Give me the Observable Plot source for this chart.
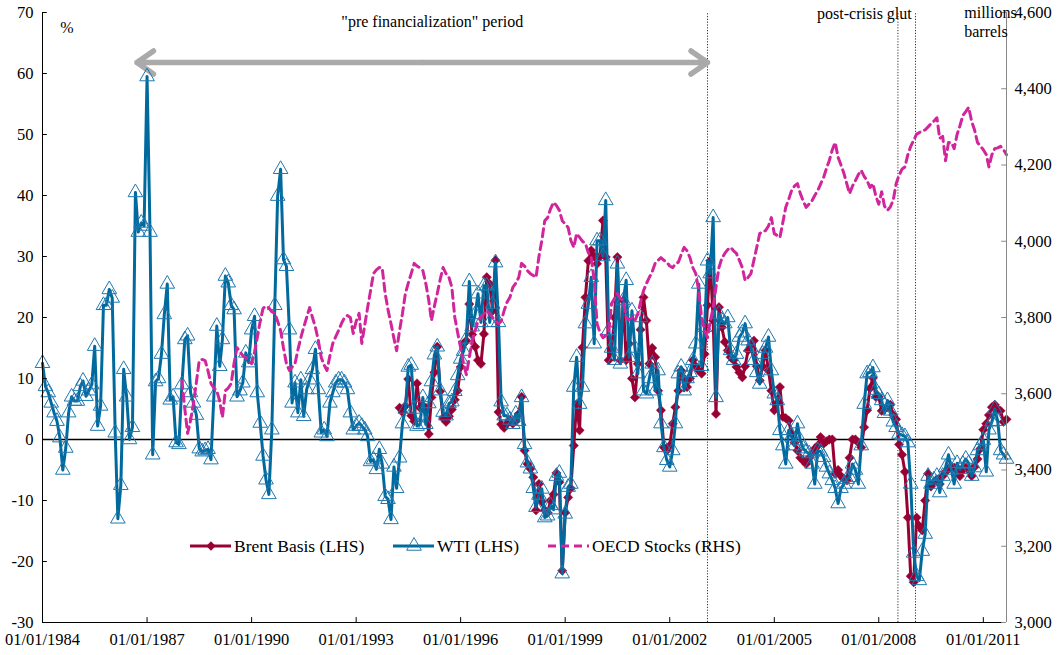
<!DOCTYPE html>
<html>
<head>
<meta charset="utf-8">
<script src="https://cdn.jsdelivr.net/npm/d3@7"></script>
<script src="https://cdn.jsdelivr.net/npm/@observablehq/plot@0.6"></script>
<style>
  html, body { margin: 0; padding: 0; background: #fff; }
  #wrap { position: relative; width: 1062px; height: 655px; }
</style>
</head>
<body>
<div id="wrap"></div>
<script>
// ---------------- DATA (monthly) ----------------
// WTI basis (%), Jan 1984 - Sep 2011, left axis
const wtiValues = [
  12.5, 8.7, 7.7, 6, 4.4, 3, 0.3, -5, -1.4, 4.4, 7, 6.3,            // 1984
  6.3, 8.7, 9.6, 7.1, 8, 9, 15.3, 2.2, 5.5, 22, 22, 24.6,           // 1985
  23.2, 1.1, -13, -7.5, 11.5, 7, 0, 2, 40.5, 34, 35.5, 35,          // 1986
  59.5, 34, -2.5, 9.5, 10, 14, 20.5, 25.5, 6.5, 7, -0.5, -0.8,      // 1987
  9, 16.4, 17, 7.7, 6, 4, -1.5, -2, -1.8, -1.6, -3.3, 7,            // 1988
  18.6, 12, 16.4, 26.8, 25.7, 22, 21.3, 7, 8, 9.3, 14.2, 12.6,      // 1989
  18, 20.2, 7.7, 2.7, -2.7, -6.6, -9, 1.6, 22, 39.9, 44.3, 29.5,    // 1990
  28.4, 18, 6, 9.3, 4.4, 9.8, 3.8, 8.2, 9.8, 11.5, 14.8, 8.2,       // 1991
  1.1, 1.6, 0.5, 6, 7.7, 9.3, 9.8, 9.8, 9.3, 8.2, 4.4, 1.6,         // 1992
  2.2, 2.7, 2.2, 1.6, 0.5, -3.6, -3.3, -4.9, -1.6, -4, -9.3, -9.8,  // 1993
  -13.1, -4.5, -8, -3, 2.6, 5, 11.9, 12.2, 5, 2.2, 2.5, 6.9,        // 1994
  2.5, 5.9, 9.5, 13.9, 15.2, 8, 4.5, 3.9, 5.9, 6.2, 7.9, 10.5,      // 1995
  13.2, 14.5, 16.5, 25.9, 18.5, 20.5, 23.9, 19.2, 25.2, 25.2, 19.2, 22.2, // 1996
  29, 19.2, 6.2, 3.9, 3.9, 3.2, 2.5, 4.2, 3, 6.9, -0.8, -3.8,       // 1997
  -4.8, -8, -11.1, -9.1, -8.1, -12.8, -12.5, -10.8, -11.5, -6, -5.5, -22, // 1998
  -12.2, -7.8, -7.3, 8.6, 13.5, 5.8, 8.6, 19, 22.2, 26.6, 15.7, 32.6, // 1999
  32.6, 30, 39.2, 17.9, 15, 13, 28.8, 12.4, 22.8, 26.1, 13.5, 21.1, // 2000
  15, 10.8, 20, 8, 7.5, 10, 12.4, 8, 11.3, 2.6, -1.3, -3.4,         // 2001
  -4.5, -1.8, 2.6, 10.8, 11.9, 8, 10, 11, 13, 15.7, 25.5, 12,       // 2002
  18.4, 29.3, 27.2, 36.4, 6.9, 20.6, 19.5, 19, 20, 14.6, 13, 14,    // 2003
  16.8, 17.5, 19, 16.2, 15.1, 13, 11, 9.1, 14, 15, 16.8, 11.3,      // 2004
  7.5, 6.4, 1.5, -1, -4, 1.5, 0.5, -1, 2.6, -0.2, -1.5, -2,         // 2005
  -2.3, -4, -7.3, -1.8, -2, -2.9, -4.5, -5.6, -6.7, -8, -10.5, -8,  // 2006
  -7.3, -6.5, -6.2, -4, -5, -7.3, -1, 5.8, 10.8, 11, 11.8, 8.1,     // 2007
  7.4, 6.4, 4.3, 6.4, 4.7, 2.9, 2, 0.9, 0.7, 0.5, -0.5, -7.3,       // 2008
  -18.6, -22.4, -23.1, -18.3, -15.5, -6, -7.3, -6.6, -6, -8.7, -6, -4.6, // 2009
  -2.5, -5, -7.3, -3.9, -4.9, -4, -3.2, -3.9, -6, -4.6, -1.8, -1,   // 2010
  -0.1, -5.3, 1.6, 2.9, 5, 3, -1.8, -2.5, -3.2                      // 2011
];
// Brent basis (%), Apr 1994 - Sep 2011, left axis
const brentValues = [
  5.2, 4.5, 5.5, 9.9, 3.9, 3, 9.2, 5.2, 5.2,                        // 1994 (Apr-Dec)
  5.2, 0.9, 6.9, 11, 15.2, 7.9, 3.5, 2.9, 3.8, 4.9, 6.5, 8,         // 1995
  11.9, 15.7, 16.2, 22.2, 17.2, 15.2, 13, 12.4, 17.3, 26.6, 25.5, 21.1, // 1996
  29.4, 4.5, 2.5, 1.9, 2.6, 3.2, 2.6, 3, 4.2, 7, -1.8, -4,          // 1997
  -4.8, -6.2, -11.6, -7.3, -10.2, -11.6, -12, -10, -9, -5.5, -7, -21.5, // 1998
  -12, -9.5, -8, -1, 5.8, 1.5, 15.1, 23.3, 29.3, 31, 30, 28.8,      // 1999
  30, 35.9, 29.9, 13, 14.6, 20, 29.9, 13, 22.8, 13, 15.7, 10,       // 2000
  6.9, 12.4, 18, 23.3, 19.5, 12.4, 15, 13.5, 8, 4.8, -1.3, -1.8,    // 2001
  -1, 2.6, 5.3, 8, 11.3, 10, 8.6, 10, 13, 12, 11.3, 10.8,           // 2002
  14, 22, 29.3, 19.5, 4.2, 21.7, 18.4, 16, 14.6, 13.5, 13, 11.9,    // 2003
  11, 10.2, 12, 14.6, 15.5, 16.2, 12, 9.7, 12, 14.6, 11.3, 8,       // 2004
  4.8, 6, 8.6, 3.7, 3.5, 3.1, 1, -0.5, -1.8, -3, -3.5, -4,          // 2005
  -3, -2.3, -1.5, -1, 0.4, -0.7, -0.3, 0, 0, -5.6, -5, -6,          // 2006
  -6.5, -6.7, -3, 0, 0, -0.5, -1.3, 2, 4.8, 8.4, 10.1, 7,           // 2007
  7, 4.7, 5, 5.3, 5.7, 4, 3.3, -0.8, -2.5, -5.3, -12.8, -22.4,      // 2008
  -23.4, -12.8, -14.2, -14.9, -10, -5.6, -7.7, -7, -6.6, -7.3, -6, -5.3, // 2009
  -4.8, -4.6, -4.6, -5, -6, -5, -4.6, -5, -6, -4.5, -3.2, -1.5,     // 2010
  1.6, 2.6, 4, 5.3, 5.7, 5, 4.7, 2.9, 3.3                           // 2011
];
// OECD commercial stocks (millions barrels), Jan 1988 - Sep 2011, right axis
const oecdValues = [
  3635, 3560, 3496, 3530, 3574, 3630, 3687, 3690, 3687, 3660, 3627, 3615, // 1988
  3608, 3580, 3538, 3608, 3615, 3627, 3680, 3721, 3710, 3700, 3695, 3685, // 1989
  3679, 3710, 3747, 3790, 3824, 3830, 3825, 3815, 3811, 3790, 3766, 3720, // 1990
  3679, 3661, 3670, 3679, 3715, 3747, 3774, 3800, 3826, 3800, 3774, 3740, // 1991
  3695, 3675, 3661, 3700, 3732, 3750, 3766, 3785, 3800, 3805, 3800, 3758, // 1992
  3790, 3811, 3732, 3780, 3826, 3870, 3915, 3925, 3931, 3930, 3863, 3820, // 1993
  3784, 3745, 3713, 3766, 3810, 3863, 3890, 3915, 3942, 3935, 3930, 3923, // 1994
  3889, 3845, 3792, 3830, 3863, 3900, 3931, 3915, 3905, 3879, 3800, 3760, // 1995
  3721, 3679, 3650, 3695, 3740, 3766, 3790, 3800, 3810, 3818, 3810, 3800, // 1996
  3790, 3784, 3790, 3818, 3840, 3853, 3879, 3890, 3905, 3942, 3935, 3923, // 1997
  3915, 3910, 3905, 3960, 4002, 4054, 4062, 4085, 4102, 4094, 4081, 4054, // 1998
  4045, 4036, 4002, 3984, 4020, 4010, 4000, 3994, 3970, 3957, 3897, 3784, // 1999
  3760, 3747, 3752, 3758, 3837, 3850, 3863, 3850, 3845, 3800, 3795, 3800, // 2000
  3792, 3810, 3840, 3870, 3889, 3905, 3920, 3942, 3950, 3957, 3950, 3945, // 2001
  3935, 3931, 3940, 3945, 3965, 3984, 3975, 3957, 3930, 3915, 3870, 3800, // 2002
  3766, 3747, 3790, 3826, 3880, 3931, 3955, 3968, 3978, 3984, 3975, 3968, // 2003
  3950, 3931, 3897, 3905, 3915, 3950, 3984, 4020, 4025, 4028, 4040, 4062, // 2004
  4020, 4015, 4010, 4050, 4089, 4110, 4133, 4145, 4151, 4125, 4105, 4089, // 2005
  4098, 4107, 4120, 4133, 4150, 4167, 4190, 4212, 4240, 4259, 4220, 4200, // 2006
  4178, 4150, 4125, 4145, 4159, 4175, 4186, 4170, 4159, 4141, 4151, 4119, // 2007
  4097, 4130, 4092, 4081, 4090, 4108, 4151, 4173, 4189, 4195, 4227, 4249, // 2008
  4265, 4281, 4285, 4290, 4292, 4300, 4308, 4315, 4324, 4270, 4275, 4211, // 2009
  4259, 4259, 4243, 4280, 4303, 4330, 4340, 4351, 4314, 4292, 4259, 4250, // 2010
  4240, 4227, 4195, 4227, 4243, 4245, 4249, 4240, 4227                    // 2011
];

// tick values
const leftTicks = [-30, -20, -10, 0, 10, 20, 30, 40, 50, 60, 70];
const rightTicks = [3000, 3200, 3400, 3600, 3800, 4000, 4200, 4400, 4600];
const tickYears = [1984, 1987, 1990, 1993, 1996, 1999, 2002, 2005, 2008, 2011];

// annotation labels
const preLabel = "\"pre financialization\" period";
const postLabel = "post-crisis glut";
const unitLabel = "millions\nbarrels";
const pctLabel = "%";
const eventDates = [new Date(Date.UTC(2003, 1, 1)), new Date(Date.UTC(2008, 6, 20)), new Date(Date.UTC(2009, 0, 20))];
const arrowFrom = new Date(Date.UTC(1986, 8, 17));
const arrowTo = eventDates[0];
const arrowLevel = 61.8;

// ---------------- BUILD ----------------
const monthly = (y, m, vals) => vals.map((v, i) => ({date: new Date(Date.UTC(y, m + i, 1)), value: v}));
const wti = monthly(1984, 0, wtiValues);
const brent = monthly(1994, 3, brentValues);
const oecd = monthly(1988, 0, oecdValues);

// right axis (3000..4600) mapped onto left axis (-30..70)
const toLeft = v => (v - 3000) / 16 - 30;

const xStart = new Date(Date.UTC(1984, 0, 1));
const xEnd = new Date(Date.UTC(2011, 8, 1));
const xTicks = tickYears.map(y => new Date(Date.UTC(y, 0, 1)));
const arrowMid = new Date((+arrowFrom + +arrowTo) / 2);
const arrows = [{a: arrowMid, b: arrowFrom}, {a: arrowMid, b: arrowTo}];

const brentColor = "#990033";
const wtiColor = "#006a9e";
const wtiMarker = "#1f78b0";
const oecdColor = "#d1259b";
const font = "'Liberation Serif', 'Times New Roman', serif";

const chart = Plot.plot({
  width: 1062,
  height: 655,
  marginLeft: 42,
  marginRight: 56,
  marginTop: 12,
  marginBottom: 33,
  x: {type: "utc", domain: [xStart, xEnd]},
  y: {domain: [-30, 70]},
  style: {fontFamily: font, fontSize: "16px", color: "#000", background: "#fff", overflow: "visible"},
  marks: [
    // event lines
    Plot.ruleX(eventDates, {x: d => d, y1: -30, y2: 70, stroke: "#333", strokeWidth: 1, strokeDasharray: "1.2,1.6"}),
    // zero line
    Plot.ruleY([0], {stroke: "#000", strokeWidth: 1.6}),
    // double arrow
    Plot.arrow(arrows, {x1: "a", x2: "b", y1: () => arrowLevel, y2: () => arrowLevel, stroke: "#aaaaaa", strokeWidth: 5.5, headLength: 5.5, headAngle: 70}),
    // Brent
    Plot.line(brent, {x: "date", y: "value", stroke: brentColor, strokeWidth: 3}),
    Plot.dot(brent, {x: "date", y: "value", symbol: "diamond2", r: 4.2, fill: brentColor, stroke: brentColor, strokeWidth: 0.5}),
    // WTI
    Plot.line(wti, {x: "date", y: "value", stroke: wtiColor, strokeWidth: 3}),
    Plot.dot(wti, {x: "date", y: "value", symbol: "triangle2", r: 7, fill: "none", stroke: wtiMarker, strokeWidth: 1}),
    // OECD stocks (right axis)
    Plot.line(oecd, {x: "date", y: d => toLeft(d.value), stroke: oecdColor, strokeWidth: 3, strokeDasharray: "8,5"}),
    // axis frames
    Plot.ruleX([xStart], {stroke: "#000", strokeWidth: 1}),
    Plot.ruleX([xEnd], {stroke: "#888", strokeWidth: 1}),
    Plot.ruleY([-30], {stroke: "#000", strokeWidth: 1}),
    // inward ticks
    Plot.ruleY(leftTicks, {y: d => d, x1: () => xStart, x2: () => d3.utcDay.offset(xStart, 50), stroke: "#000"}),
    Plot.ruleY(rightTicks.map(toLeft), {y: d => d, x1: () => d3.utcDay.offset(xEnd, -50), x2: () => xEnd, stroke: "#888"}),
    Plot.ruleX(xTicks, {x: d => d, y1: -30, y2: -29.2, stroke: "#000"}),
    // axes labels
    Plot.axisY(leftTicks, {anchor: "left", tickSize: 0, tickPadding: 9, fontSize: 16.5, fontFamily: font, label: null,
      tickFormat: d => String(d)}),
    Plot.axisY(rightTicks.map(toLeft), {anchor: "right", tickSize: 0, tickPadding: 8, fontSize: 16.5, fontFamily: font, label: null,
      tickFormat: d => d3.format(",")(Math.round(3000 + (d + 30) * 16))}),
    Plot.axisX(xTicks, {anchor: "bottom", tickSize: 0, tickPadding: 11, fontSize: 16.5, fontFamily: font, label: null,
      tickFormat: d => "01/01/" + d.getUTCFullYear()}),
    // annotations
    Plot.text([pctLabel], {x: () => new Date(Date.UTC(1984, 8, 13)), y: () => 67.5, fontSize: 16, fontFamily: font}),
    Plot.text([preLabel], {x: () => new Date(Date.UTC(1995, 2, 10)), y: () => 68.4, fontSize: 16, fontFamily: font}),
    Plot.text([postLabel], {x: () => new Date(Date.UTC(2008, 11, 12)), y: () => 69.8, fontSize: 16, fontFamily: font, textAnchor: "end"}),
    Plot.text([unitLabel], {x: () => new Date(Date.UTC(2010, 5, 15)), y: () => 71.4, fontSize: 16, fontFamily: font, textAnchor: "start", lineAnchor: "top", lineHeight: 1.2})
  ]
});

const wrap = document.getElementById("wrap");
wrap.appendChild(chart);

// ---------------- LEGEND (inside plot area) ----------------
const legendItems = [
  {label: "Brent Basis (LHS)", x: 190, kind: "brent"},
  {label: "WTI (LHS)", x: 393, kind: "wti"},
  {label: "OECD Stocks (RHS)", x: 548, kind: "oecd"}
];
const ly = 546;
const overlay = d3.select(wrap).append("svg")
  .attr("width", 1062).attr("height", 655)
  .style("position", "absolute").style("left", "0px").style("top", "0px")
  .style("pointer-events", "none");
for (const it of legendItems) {
  const g = overlay.append("g");
  if (it.kind === "brent") {
    g.append("line").attr("x1", it.x).attr("x2", it.x + 41).attr("y1", ly).attr("y2", ly)
      .attr("stroke", brentColor).attr("stroke-width", 3);
    g.append("path").attr("d", d3.symbol(d3.symbolDiamond2, Math.PI * 4.2 * 4.2)())
      .attr("transform", `translate(${it.x + 21},${ly})`).attr("fill", brentColor);
  } else if (it.kind === "wti") {
    g.append("line").attr("x1", it.x).attr("x2", it.x + 41).attr("y1", ly).attr("y2", ly)
      .attr("stroke", wtiColor).attr("stroke-width", 3);
    g.append("path").attr("d", d3.symbol(d3.symbolTriangle2, Math.PI * 7 * 7)())
      .attr("transform", `translate(${it.x + 21},${ly})`).attr("fill", "none")
      .attr("stroke", wtiMarker).attr("stroke-width", 1);
  } else {
    g.append("line").attr("x1", it.x).attr("x2", it.x + 41).attr("y1", ly).attr("y2", ly)
      .attr("stroke", oecdColor).attr("stroke-width", 3).attr("stroke-dasharray", "8,5");
  }
  g.append("text").attr("x", it.x + 44).attr("y", ly).attr("dy", "0.35em")
    .attr("font-family", font).attr("font-size", 17.5).attr("fill", "#000").text(it.label);
}
</script>
</body>
</html>
